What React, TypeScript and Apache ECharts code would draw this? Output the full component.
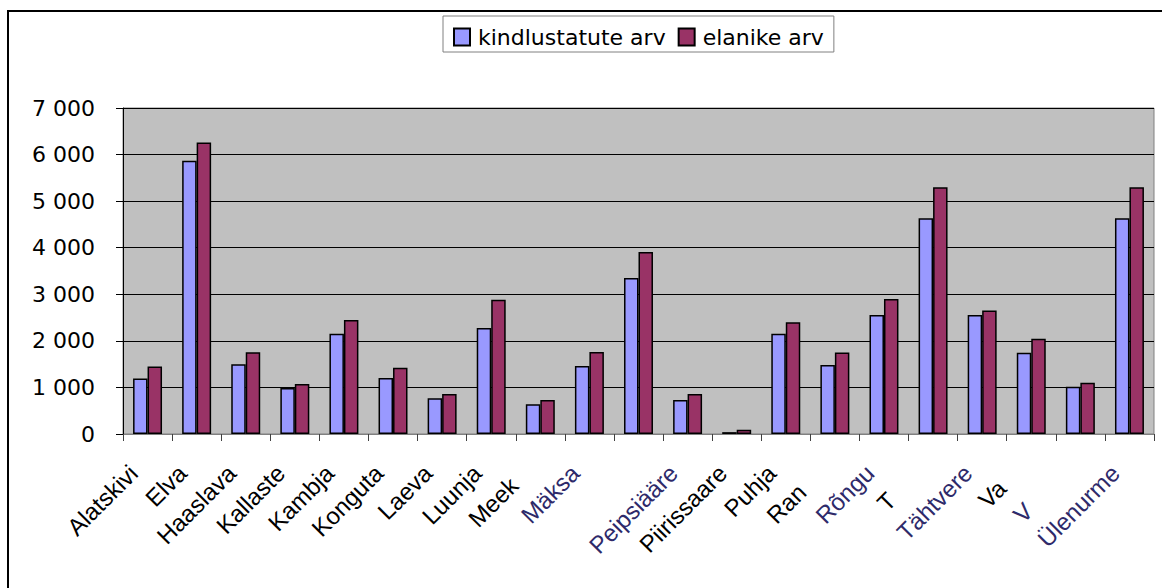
import { useEffect, useRef } from 'react';
import * as echarts from 'echarts';

const categories = ['Alatskivi', 'Elva', 'Haaslava', 'Kallaste', 'Kambja', 'Konguta', 'Laeva', 'Luunja', 'Meeksi', 'Mäksa', 'Nõo', 'Peipsiääre', 'Piirissaare', 'Puhja', 'Rannu', 'Rõngu', 'Tartu', 'Tähtvere', 'Vara', 'Võnnu', 'Ülenurme'];
// tick labels as they are visible in the picture (some are clipped)
const visibleLabels = ['Alatskivi', 'Elva', 'Haaslava', 'Kallaste', 'Kambja', 'Konguta', 'Laeva', 'Luunja', 'Meek', 'Mäksa', '', 'Peipsiääre', 'Piirissaare', 'Puhja', 'Ran', 'Rõngu', 'T', 'Tähtvere', 'Va', 'V', 'Ülenurme'];
const blurredLabels = ['Mäksa', 'Peipsiääre', 'Rõngu', 'Tähtvere', 'Võnnu', 'Ülenurme'];
const seriesNames = ['kindlustatute arv', 'elanike arv'];
const insured = [1190, 5870, 1500, 990, 2150, 1200, 770, 2275, 640, 1460, 3350, 730, 40, 2150, 1480, 2555, 4630, 2555, 1745, 1015, 4630];
const residents = [1450, 6260, 1755, 1075, 2450, 1420, 860, 2880, 730, 1760, 3910, 860, 90, 2400, 1750, 2900, 5300, 2650, 2045, 1100, 5300];
const yMax = 7000;
const yStep = 1000;

const FONT = '"Liberation Sans", Arial, sans-serif';
const WIDE = '"DejaVu Sans", sans-serif';
const XFS = 24;

export default function App() {
  const ref = useRef<HTMLDivElement>(null);
  useEffect(() => {
    if (!ref.current) return;
    const chart = echarts.init(ref.current, null, { renderer: 'svg' });

    const ctx = document.createElement('canvas').getContext('2d')!;
    ctx.font = `${XFS}px "Liberation Sans"`;
    const tails = categories.map((c, i) => {
      const v = visibleLabels[i];
      if (!v || v === c) return 0;
      return ctx.measureText(c).width - ctx.measureText(v).width;
    });
    const rich: Record<string, any> = {
      t: { fontSize: XFS, fontFamily: FONT, color: '#000' },
      c: { fontSize: XFS, fontFamily: FONT, color: '#2e2a6a' },
    };
    tails.forEach((w, i) => {
      if (w > 0) rich['g' + i] = { width: w, fontSize: XFS, fontFamily: FONT };
    });

    chart.setOption({
      animation: false,
      backgroundColor: '#fff',
      graphic: [
        {
          type: 'rect',
          shape: { x: 8, y: 11, width: 1300, height: 700 },
          style: { fill: 'none', stroke: '#000', lineWidth: 2 },
          silent: true,
        },
      ],
      legend: {
        left: 443,
        top: 16,
        padding: [10, 10, 4, 10],
        itemWidth: 16,
        itemHeight: 17,
        itemGap: 12,
        icon: 'rect',
        borderColor: '#808080',
        borderWidth: 1,
        backgroundColor: '#fff',
        textStyle: { fontFamily: WIDE, fontSize: 22, color: '#000', padding: [0, 0, 0, 3] },
        data: seriesNames,
      },
      grid: {
        left: 123,
        top: 108,
        width: 1031,
        height: 326,
        show: true,
        backgroundColor: '#C0C0C0',
        borderColor: '#808080',
        borderWidth: 1,
        containLabel: false,
      },
      xAxis: {
        type: 'category',
        data: categories,
        boundaryGap: true,
        axisLine: { show: true, lineStyle: { color: '#808080', width: 1 } },
        axisTick: { show: true, interval: 0, length: 7, lineStyle: { color: '#404040', width: 1 } },
        axisLabel: {
          interval: 0,
          rotate: 45,
          margin: 21,
          padding: [0, 20, 0, 0],
          fontFamily: FONT,
          fontSize: XFS,
          color: '#000',
          rich,
          formatter: (value: string, index: number) => {
            const v = visibleLabels[index];
            if (!v) return '';
            const st = blurredLabels.includes(value) ? 'c' : 't';
            const g = tails[index] > 0 ? `{g${index}| }` : '';
            return `{${st}|${v}}${g}`;
          },
        },
      },
      yAxis: {
        type: 'value',
        min: 0,
        max: yMax,
        interval: yStep,
        axisLine: { show: true, lineStyle: { color: '#000', width: 1 } },
        axisTick: { show: true, length: 7, lineStyle: { color: '#000', width: 1 } },
        splitLine: { show: true, lineStyle: { color: '#000', width: 1 } },
        axisLabel: {
          margin: 28,
          fontFamily: WIDE,
          fontSize: 22,
          color: '#000',
          formatter: (v: number) =>
            v === 0 ? '0' : `${Math.floor(v / 1000)} ${String(v % 1000).padStart(3, '0')}`,
        },
      },
      series: [
        {
          name: seriesNames[0],
          type: 'bar',
          data: insured,
          barGap: '0%',
          barCategoryGap: '41%',
          itemStyle: { color: '#9999FF', borderColor: '#000', borderWidth: 1.5 },
        },
        {
          name: seriesNames[1],
          type: 'bar',
          data: residents,
          barGap: '0%',
          barCategoryGap: '41%',
          itemStyle: { color: '#993366', borderColor: '#000', borderWidth: 1.5 },
        },
      ],
    });
    return () => chart.dispose();
  }, []);
  return (
    <div
      ref={ref}
      style={{ position: 'absolute', left: 0, top: 0, width: 1162, height: 588 }}
    />
  );
}
